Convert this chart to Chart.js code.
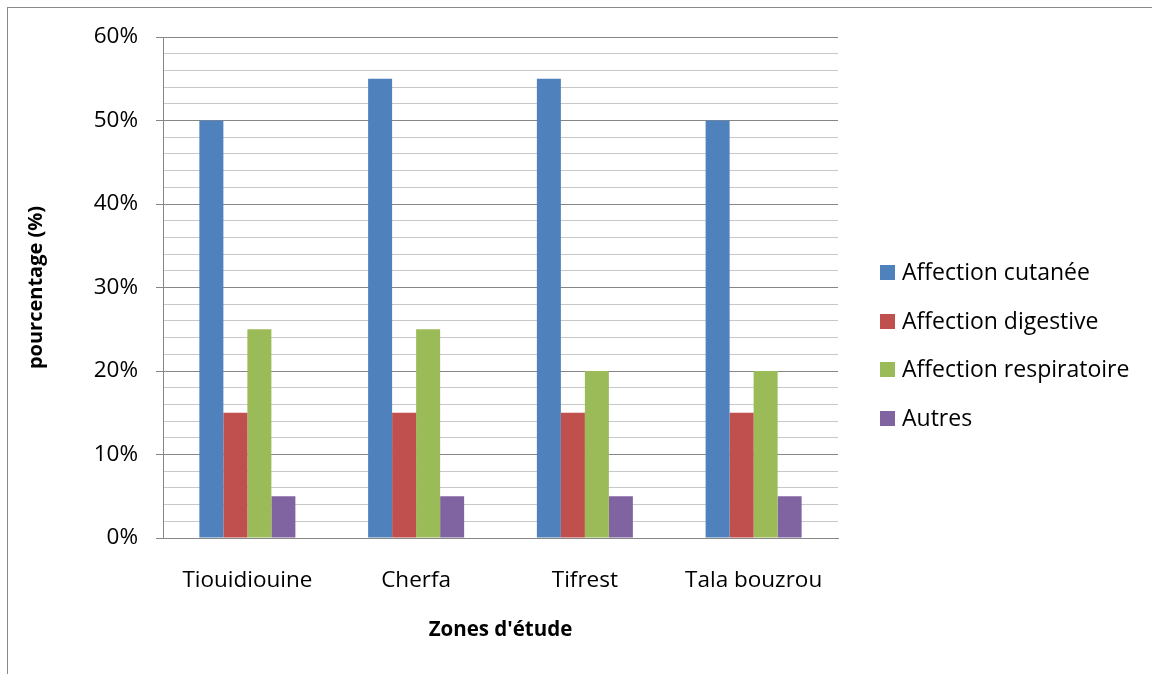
<!DOCTYPE html>
<html>
<head>
<meta charset="utf-8">
<script src="https://cdn.jsdelivr.net/npm/chart.js@4.4.0/dist/chart.umd.min.js"></script>
<style>
  html, body { margin: 0; padding: 0; background: #fff; overflow: hidden; }
  #cadre { position: absolute; left: 7px; top: 7px; width: 2000px; height: 2000px; border: 1px solid #898989; }
  #zone { position: absolute; left: 0; top: 0; width: 1152px; height: 674px; }
  #legende { position: absolute; left: 880px; top: 257px; font-family: "Open Sans", sans-serif; font-size: 23px; color: #000; }
  #legende div { height: 48.5px; line-height: 29px; white-space: nowrap; }
  #legende span { display: inline-block; width: 15px; height: 15px; margin-right: 7px; vertical-align: 0px; }
</style>
</head>
<body>
<div id="cadre"></div>
<div id="zone"><canvas id="myChart" width="1152" height="674"></canvas></div>
<div id="legende"></div>
<script>
// donnees (%)
var zones = ['Tiouidiouine', 'Cherfa', 'Tifrest', 'Tala bouzrou'];
var cutanee = [50, 55, 55, 50];
var digestive = [15, 15, 15, 15];
var respiratoire = [25, 25, 20, 20];
var autres = [5, 5, 5, 5];

var noms = ['Affection cutanée', 'Affection digestive', 'Affection respiratoire', 'Autres'];
var couleurs = ['#4F81BD', '#C0504D', '#9BBB59', '#8064A2'];
var series = [cutanee, digestive, respiratoire, autres];

var gris = '#868686';
var grisClair = '#c8c8c8';

var datasets = [];
for (let i = 0; i < series.length; i++) {
    datasets.push({
        label: noms[i],
        data: series[i],
        backgroundColor: couleurs[i],
        borderWidth: 0
    });
}

// legende html a droite
var leg = document.getElementById('legende');
for (let i = 0; i < noms.length; i++) {
    leg.innerHTML += '<div><span style="background:' + couleurs[i] + '"></span>' + noms[i] + '</div>';
}

Chart.defaults.font.family = '"Open Sans", sans-serif';
Chart.defaults.color = '#000';

let ctx = document.getElementById('myChart').getContext('2d');
let myChart = new Chart(ctx, {
    type: 'bar',
    data: {
        labels: zones,
        datasets: datasets
    },
    options: {
        responsive: false,
        animation: false,
        layout: {
            padding: { left: 0, top: 37, right: 314, bottom: 0 }
        },
        datasets: {
            bar: {
                categoryPercentage: 0.569,
                barPercentage: 1
            }
        },
        plugins: {
            legend: { display: false },
            tooltip: { enabled: false }
        },
        scales: {
            x: {
                grid: { display: false, drawTicks: false },
                border: { display: true, color: gris, width: 1 },
                ticks: { font: { size: 22.5 }, padding: 29, maxRotation: 0 },
                title: {
                    display: true,
                    text: "Zones d'étude",
                    font: { size: 20.5, weight: 'bold' },
                    padding: { top: 0, bottom: 32 }
                },
                afterFit: function (scale) {
                    scale.height = 136;
                }
            },
            y: {
                min: 0,
                max: 60,
                ticks: {
                    stepSize: 2,
                    autoSkip: false,
                    font: { size: 22.5 },
                    padding: 18,
                    callback: function (v) {
                        return v % 10 === 0 ? v + '%' : '';
                    }
                },
                grid: {
                    color: function (c) {
                        return c.tick && c.tick.value % 10 === 0 ? gris : grisClair;
                    },
                    tickColor: function (c) {
                        return c.tick && c.tick.value % 10 === 0 ? gris : 'rgba(0,0,0,0)';
                    },
                    tickLength: 7,
                    lineWidth: 1
                },
                border: { display: true, color: gris, width: 1 },
                title: {
                    display: true,
                    text: 'pourcentage (%)',
                    font: { size: 20, weight: 'bold' },
                    padding: { top: 24, bottom: 0 }
                },
                afterFit: function (scale) {
                    scale.width = 163;
                }
            }
        }
    }
});
</script>
</body>
</html>
